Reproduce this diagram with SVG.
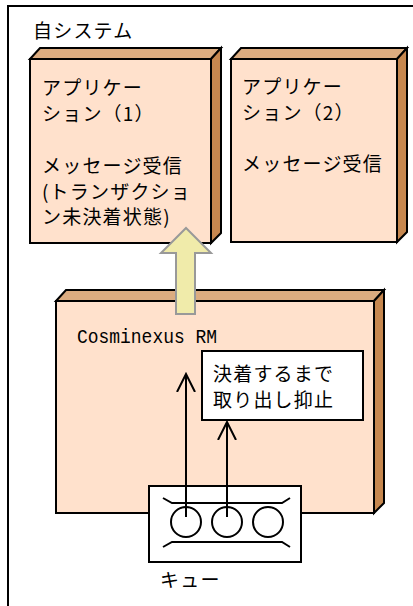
<svg xmlns="http://www.w3.org/2000/svg" width="413" height="606" viewBox="0 0 413 606">
<defs>
<style>
.front{fill:#FFE1CC;stroke:#000;stroke-width:2;stroke-linejoin:miter}
.top{fill:#DCAC80;stroke:#000;stroke-width:2;stroke-linejoin:miter}
.side{fill:#C6874F;stroke:#000;stroke-width:2;stroke-linejoin:miter}
.jp{font-family:"Noto Sans CJK JP","Noto Sans",sans-serif;font-size:19px;letter-spacing:1.2px;fill:#000}
.mono{font-family:"Liberation Mono","DejaVu Sans Mono",monospace;font-size:20px;fill:#000}
.ln{stroke:#000;stroke-width:2;fill:none}
</style>
<marker id="v" markerUnits="userSpaceOnUse" markerWidth="20" markerHeight="20" viewBox="0 0 20 20" refX="18" refY="10" orient="auto">
<path d="M0,1 L18,10 L0,19" fill="none" stroke="#000" stroke-width="2"/>
</marker>
</defs>
<rect width="413" height="606" fill="#fff"/>
<g id="system">
<rect x="8" y="6" width="420" height="620" fill="none" stroke="#000" stroke-width="2"/>
<text class="jp" x="33" y="38">自システム</text>
</g>
<g id="app1">
<polygon class="top" points="30,59 40,48 221,48 211,59"/>
<polygon class="side" points="211,59 221,48 221,233 211,243"/>
<rect class="front" x="30" y="59" width="181" height="184"/>
<text class="jp" x="42" y="95">アプリケー</text>
<text class="jp" x="42" y="121">ション（1）</text>
<text class="jp" x="42" y="173">メッセージ受信</text>
<text class="jp" x="42" y="199">(トランザクショ</text>
<text class="jp" x="42" y="224">ン未決着状態)</text>
</g>
<g id="app2">
<polygon class="top" points="231,59 241,48 407,48 397,59"/>
<polygon class="side" points="397,59 407,48 407,232 397,242"/>
<rect class="front" x="231" y="59" width="166" height="183"/>
<text class="jp" x="242" y="94">アプリケー</text>
<text class="jp" x="242" y="120">ション（2）</text>
<text class="jp" x="242" y="171">メッセージ受信</text>
</g>
<g id="rm">
<polygon class="top" points="56,301 66,290 384,290 374,301"/>
<polygon class="side" points="374,301 384,290 384,503 374,513"/>
<rect class="front" x="56" y="301" width="318" height="212"/>
<text class="mono" x="77" y="343" textLength="140" lengthAdjust="spacingAndGlyphs">Cosminexus RM</text>
</g>
<g id="note">
<rect x="202" y="351" width="161" height="69" fill="#fff" stroke="#000" stroke-width="2"/>
<text class="jp" x="213" y="381">決着するまで</text>
<text class="jp" x="213" y="407">取り出し抑止</text>
</g>
<g id="queue">
<rect x="149" y="486" width="152" height="76" fill="#fff" stroke="#000" stroke-width="2"/>
<polyline class="ln" points="163,498 172,503 282,503 290,498"/>
<polyline class="ln" points="163,547 172,542 282,542 290,547"/>
<circle class="ln" cx="186" cy="522" r="15"/>
<circle class="ln" cx="227" cy="522" r="15"/>
<circle class="ln" cx="268" cy="522" r="15"/>
<text class="jp" x="160" y="587">キュー</text>
</g>
<g id="connectors">
<polygon points="186,228 211,253 195,253 195,314 176,314 176,253 161,253" fill="#F0EBAA" stroke="#999" stroke-width="2" stroke-linejoin="miter"/>
<line class="ln" x1="186" y1="517" x2="186" y2="374" marker-end="url(#v)"/>
<line class="ln" x1="227" y1="517" x2="227" y2="422" marker-end="url(#v)"/>
</g>
</svg>
